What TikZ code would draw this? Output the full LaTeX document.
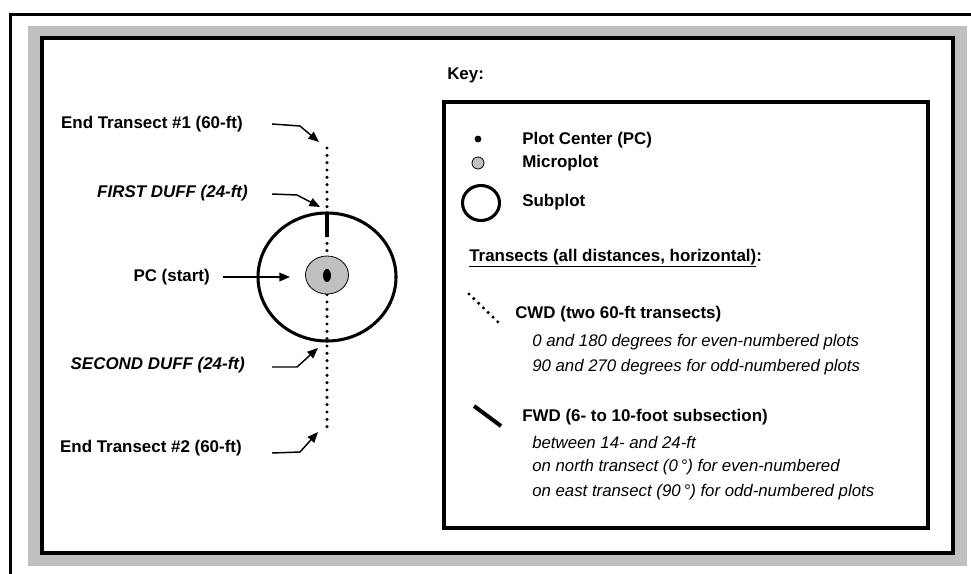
\documentclass[tikz,border=0pt]{standalone}
\usepackage{fontspec}
\setmainfont{Liberation Sans}
\usetikzlibrary{arrows.meta}
\definecolor{bandgray}{RGB}{192,192,192}

\begin{document}
\begin{tikzpicture}[x=0.75pt,y=-0.75pt,
  lbl/.style={font=\fontsize{12.7}{15}\selectfont\bfseries, inner sep=0pt},
  ilbl/.style={font=\fontsize{12.7}{15}\selectfont\bfseries\itshape, inner sep=0pt},
  note/.style={font=\fontsize{12.6}{15}\selectfont\itshape, inner sep=0pt, anchor=west},
  ptr/.style={-{Triangle[length=8pt,width=6.5pt]}, line width=1.1pt},
  cwd/.style={line width=2.6pt, line cap=round, dash pattern=on 0pt off 5.5pt}]
\useasboundingbox (0,0) rectangle (971,574);
% frames
\begin{scope}
\clip (0,0) rectangle (971,574);
\draw[line width=2.25pt] (10.5,14.5) rectangle (1000,600);
\end{scope}
\fill[bandgray] (28,26) rectangle (967,566);
\draw[line width=3pt, fill=white] (42,38) rectangle (953,553);

% plot layout
\draw[cwd] (327,148) -- (327,428);
\draw[line width=2.3pt] (327,277) ellipse [x radius=69, y radius=64];
\draw[line width=3pt] (327,213) -- (327,237);
\draw[fill=bandgray, line width=0.6pt] (327,275) ellipse [x radius=21.5, y radius=19];
\fill (327,275.5) ellipse [x radius=4, y radius=6.5];

% labels on the left
\node[lbl, anchor=east] (end1) at (243,124) {End Transect \#1 (60-ft)};
\node[ilbl, anchor=east] (duff1) at (248,193) {FIRST DUFF (24-ft)};
\node[lbl, anchor=east] (start) at (210,277) {PC (start)};
\node[ilbl, anchor=east] (duff2) at (245,365) {SECOND DUFF (24-ft)};
\node[lbl, anchor=east] (end2) at (242,448) {End Transect \#2 (60-ft)};

\coordinate (tip1) at (319,142);
\coordinate (tip2) at (320,207);
\coordinate (tip3) at (290,277);
\coordinate (tip4) at (318,348);
\coordinate (tip5) at (318,432);
\draw[ptr] (end1.east) ++(29,0) -- ++(28,2) -- (tip1);
\draw[ptr] (duff1.east) ++(24,1) -- ++(25,1) -- (tip2);
\draw[ptr] (start.east) ++(13,0) -- (tip3);
\draw[ptr] (duff2.east) ++(27,2) -- ++(25,0) -- (tip4);
\draw[ptr] (end2.east) ++(30,5) -- ++(28,-1) -- (tip5);

% key
\node[lbl, anchor=west] (key) at (447,75) {Key:};
\draw[line width=3pt] (444,102) rectangle (928,528);
\fill (478,139) circle [radius=3.4];
\node[lbl, anchor=west] (pc) at (522,140) {Plot Center (PC)};
\draw[fill=bandgray, line width=0.6pt] (478,163) circle [radius=6];
\node[lbl, anchor=west] (micro) at (522,163) {Microplot};
\draw[line width=2.3pt] (481,203) ellipse [x radius=18.5, y radius=17.5];
\node[lbl, anchor=west] (sub) at (522,202) {Subplot};
\node[lbl, anchor=west] (trans) at (469,258) {\underline{Transects (all distances, horizontal)}:};
\draw[cwd, dash pattern=on 0pt off 5pt] (469,294) -- (498,322);
\node[lbl, anchor=west] (cwd) at (515,314) {CWD (two 60-ft transects)};
\node[note] (even) at (532,342) {0 and 180 degrees for even-numbered plots};
\node[note] (odd) at (532,367) {90 and 270 degrees for odd-numbered plots};
\draw[line width=3pt] (474,406) -- (501,426);
\node[lbl, anchor=west] (fwd) at (522,417) {FWD (6- to 10-foot subsection)};
\node[note] (betw) at (532,442) {between 14- and 24-ft};
\node[note] (north) at (532,467) {on north transect (0\,°) for even-numbered};
\node[note] (east) at (532,492) {on east transect (90\,°) for odd-numbered plots};
\end{tikzpicture}
\end{document}
